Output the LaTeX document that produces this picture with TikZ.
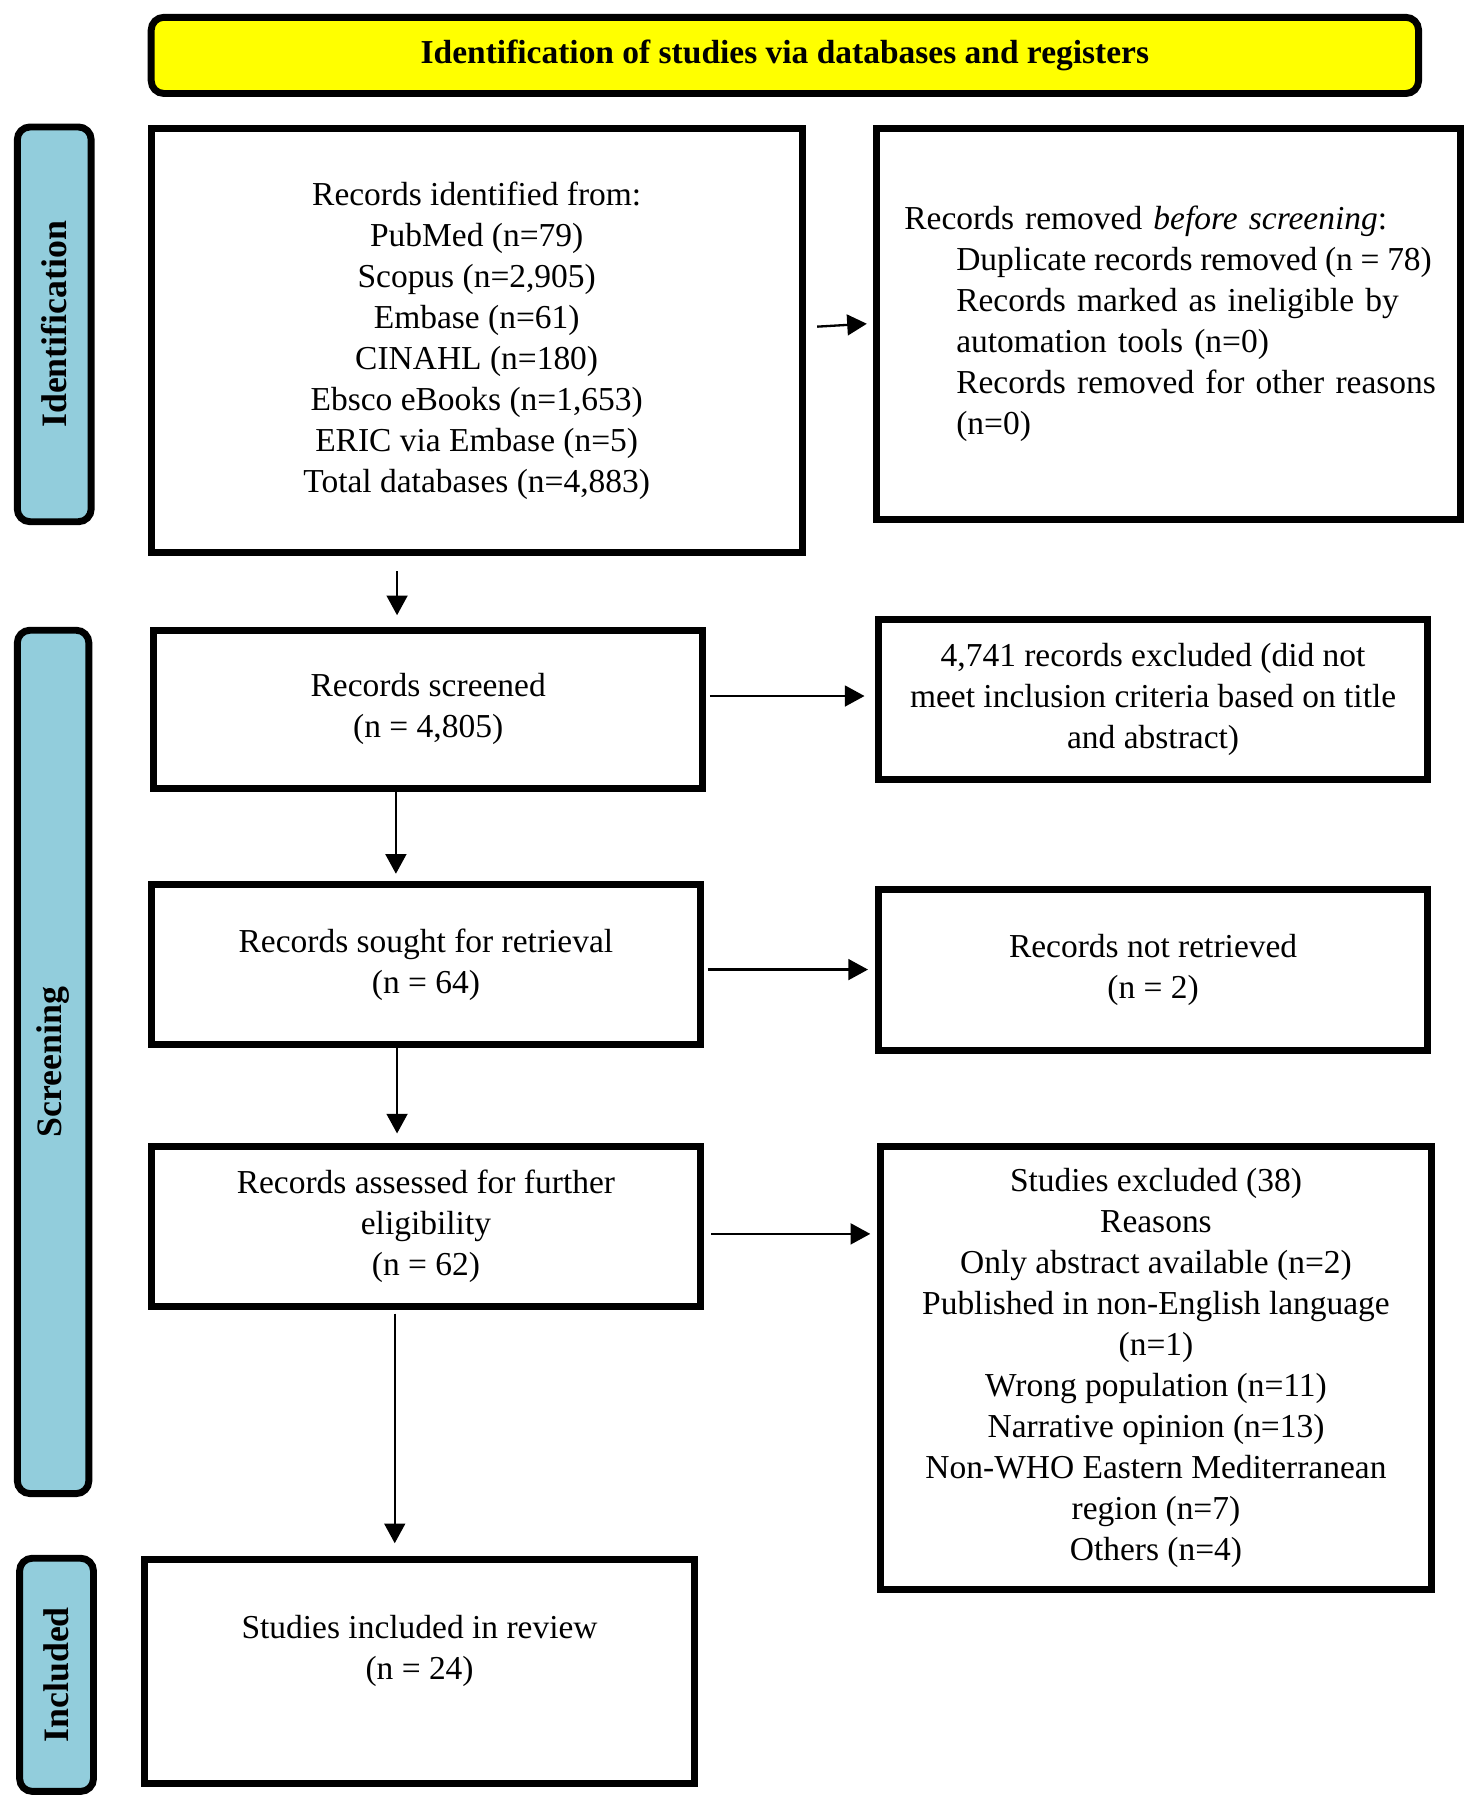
\documentclass[tikz,border=0pt]{standalone}
\usepackage{fontspec}
\setmainfont{Liberation Serif}
\usetikzlibrary{arrows.meta,calc}
\definecolor{sideblue}{HTML}{92CDDC}
\definecolor{hdryellow}{HTML}{FFFF00}
\begin{document}
\begin{tikzpicture}[x=0.5pt,y=-0.5pt]
\tikzset{
  basefont/.style={font=\fontsize{14.5pt}{17.75pt}\selectfont},
  pbox/.style={basefont, draw=black, line width=3pt, fill=white, align=center, inner sep=0pt},
  sidebox/.style={draw=black, line width=3pt, fill=sideblue, rounded corners=5.5pt, rotate=90,
    font=\bfseries\fontsize{15.5pt}{18pt}\selectfont, inner sep=0pt},
  hdrbox/.style={draw=black, line width=3pt, fill=hdryellow, rounded corners=5.5pt,
    font=\bfseries\fontsize{14.5pt}{17.75pt}\selectfont, inner sep=0pt},
  arr/.style={line width=1pt, -{Triangle[length=8.5pt,width=9pt]}},
}
\useasboundingbox (0,0) rectangle (1280,1569);

% header
\node[hdrbox, minimum width=549pt, minimum height=33pt] (hdr) at (680,48)
  {Identification of studies via databases and registers};

% side labels
\node[sidebox, minimum width=171pt, minimum height=32pt] (sident) at (47,281) {Identification};
\node[sidebox, minimum width=374pt, minimum height=31pt] (sscreen) at (46,920) {Screening};
\node[sidebox, minimum width=101pt, minimum height=32pt] (sincl) at (49,1451) {Included};

% boxes
\node[pbox, minimum width=282pt, minimum height=184pt] (ident) at (413,295)
  {Records identified from:\\PubMed (n=79)\\Scopus (n=2,905)\\Embase (n=61)\\CINAHL (n=180)\\
   Ebsco eBooks (n=1,653)\\ERIC via Embase (n=5)\\Total databases (n=4,883)};

\node[pbox, align=left, text width=228.5pt, inner xsep=12.25pt, minimum height=169.5pt] (removed) at (1012,280.5)
  {\mbox{Records removed \textit{before screening}:}\\
   \hspace*{22.5pt}{\spaceskip=0.2em plus 0.1em minus 0.1em\makebox[206pt][s]{Duplicate records removed (n = 78)}}\\
   \hspace*{22.5pt}\makebox[206pt][s]{Records marked as ineligible by}\\
   \hspace*{22.5pt}\mbox{automation tools (n=0)}\\
   \hspace*{22.5pt}\mbox{Records removed for other reasons}\\
   \hspace*{22.5pt}\mbox{(n=0)}};

\node[pbox, minimum width=238pt, minimum height=68.5pt] (screened) at (371,614.5)
  {Records screened\\(n = 4,805)};
\node[pbox, minimum width=238pt, minimum height=69pt] (excl) at (999,606)
  {4,741 records excluded (did not\\meet inclusion criteria based on title\\and abstract)};

\node[pbox, minimum width=238pt, minimum height=69.5pt] (sought) at (369,835.5)
  {Records sought for retrieval\\(n = 64)};
\node[pbox, minimum width=238pt, minimum height=69.5pt] (notret) at (999,840.5)
  {Records not retrieved\\(n = 2)};

\node[pbox, minimum width=238pt, minimum height=69.5pt] (assessed) at (369,1062.5)
  {Records assessed for further\\eligibility\\(n = 62)};
\node[pbox, minimum width=238.5pt, minimum height=192pt] (studexcl) at (1001.5,1185)
  {Studies excluded (38)\\Reasons\\Only abstract available (n=2)\\Published in non-English language\\(n=1)\\
   Wrong population (n=11)\\Narrative opinion (n=13)\\Non-WHO Eastern Mediterranean\\region (n=7)\\Others (n=4)};

\node[pbox, minimum width=238.5pt, minimum height=97pt] (included) at (363.5,1448)
  {Studies included in review\\(n = 24)\\\rule[-3pt]{0pt}{3pt}};

% arrows
\draw[arr] ($(ident.east)+(10,-12)$) -- ($(removed.west)+(-5,0)$);
\draw[arr] ($(ident.south)+(-69,13)$) -- ($(screened.north)+(-27,-10)$);
\draw[arr] ($(screened.east)+(3,-11.5)$) -- ($(excl.west)+(-9,-3)$);
\draw[arr] ($(screened.south)+(-28,0)$) -- ($(sought.north)+(-26,-6)$);
\draw[arr] ($(sought.east)+(3,4.5)$) -- ($(notret.west)+(-6,-0.5)$);
\draw[arr] ($(sought.south)+(-25,0)$) -- ($(assessed.north)+(-25,-8)$);
\draw[arr] ($(assessed.east)+(6,6.5)$) -- ($(studexcl.west)+(-6,-116)$);
\draw[arr] ($(assessed.south)+(-27,3)$) -- ($(included.north)+(-21.5,-11)$);
\end{tikzpicture}
\end{document}
